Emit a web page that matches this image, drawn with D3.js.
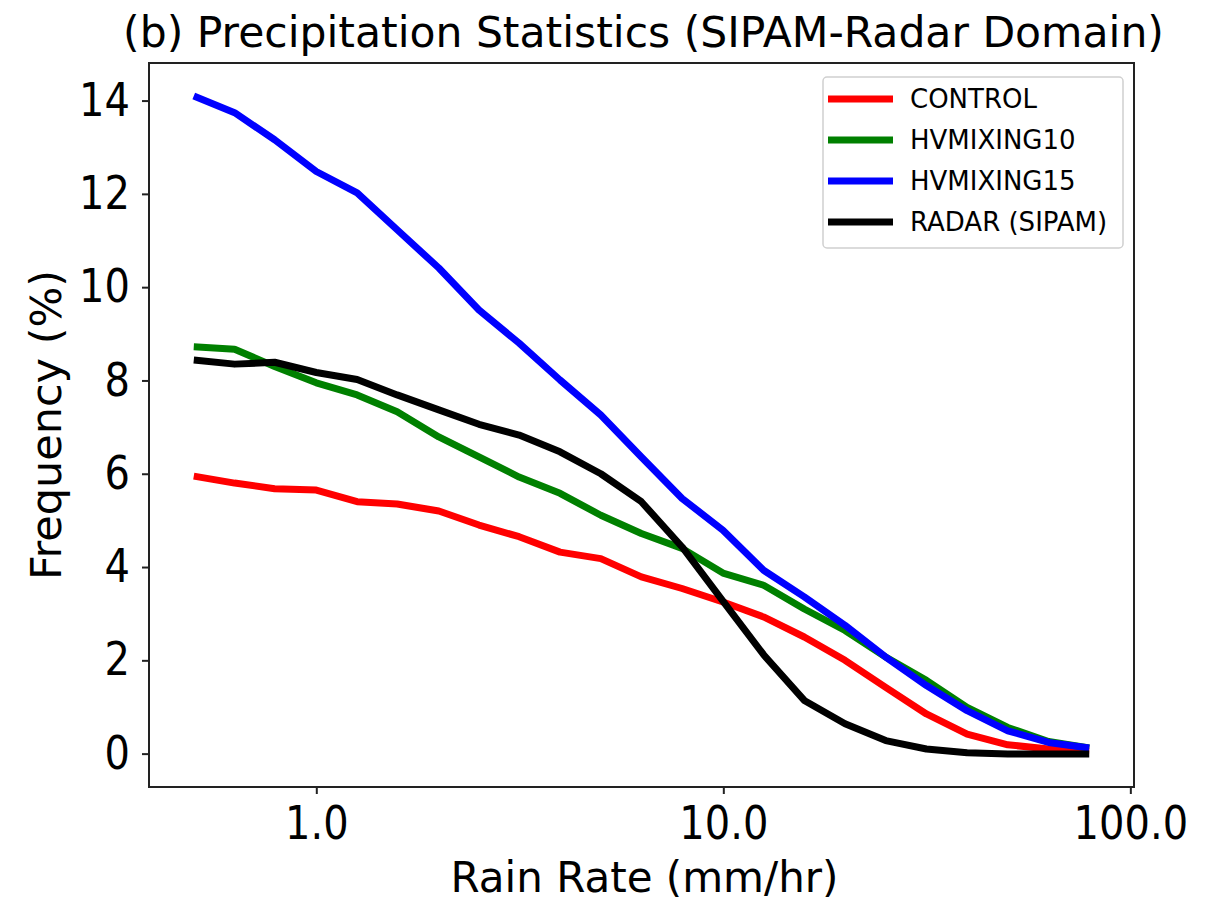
<!DOCTYPE html>
<html>
<head>
<meta charset="utf-8">
<script src="https://cdn.jsdelivr.net/npm/d3@7"></script>
<style>
  html, body { margin: 0; padding: 0; background: #fff; }
  text { font-family: "DejaVu Sans", sans-serif; fill: #000; }
</style>
</head>
<body>
<svg id="chart" width="1209" height="906"></svg>
<script>
// Rain-rate bins (mm/hr): 0.5 * 10^(k/10), k = 0..22
const rainRate = [0.5, 0.63, 0.79, 1.0, 1.26, 1.58, 2.0, 2.51, 3.15, 3.97, 5.0,
                  6.29, 7.92, 9.98, 12.56, 15.81, 19.91, 25.06, 31.55, 39.72, 50.0, 62.95, 79.25];

const control     = [5.95, 5.80, 5.68, 5.65, 5.40, 5.35, 5.20, 4.90, 4.65, 4.32, 4.18,
                     3.79, 3.54, 3.25, 2.93, 2.50, 2.00, 1.42, 0.85, 0.42, 0.19, 0.10, 0.05];
const hvmixing10  = [8.72, 8.67, 8.30, 7.95, 7.69, 7.33, 6.79, 6.36, 5.93, 5.58, 5.11,
                     4.72, 4.40, 3.87, 3.61, 3.10, 2.64, 2.07, 1.57, 0.99, 0.56, 0.26, 0.12];
const hvmixing15  = [14.10, 13.74, 13.16, 12.48, 12.02, 11.23, 10.41, 9.51, 8.80, 8.01, 7.26,
                     6.36, 5.47, 4.79, 3.93, 3.36, 2.75, 2.07, 1.46, 0.92, 0.49, 0.24, 0.12];
const radar       = [8.44, 8.35, 8.39, 8.17, 8.02, 7.69, 7.37, 7.06, 6.83, 6.47, 6.00,
                     5.40, 4.43, 3.27, 2.12, 1.14, 0.64, 0.28, 0.10, 0.02, -0.01, -0.01, -0.01];

const seriesNames  = ["CONTROL", "HVMIXING10", "HVMIXING15", "RADAR (SIPAM)"];
const seriesColors = ["#ff0000", "#008000", "#0000ff", "#000000"];
const seriesValues = [control, hvmixing10, hvmixing15, radar];

const xTicks = [1, 10, 100];
const yTicks = [0, 2, 4, 6, 8, 10, 12, 14];

const titleText = "(b) Precipitation Statistics (SIPAM-Radar Domain)";
const xLabel = "Rain Rate (mm/hr)";
const yLabel = "Frequency (%)";

const svg = d3.select("#chart");
const plot = { left: 149, right: 1134, top: 63, bottom: 787 };
const tickFont = 40, tickStretch = 1.14;

// log x-axis with 5% padding in log space, like the default autoscale margins
const lx0 = Math.log10(d3.min(rainRate)), lx1 = Math.log10(d3.max(rainRate));
const padX = (lx1 - lx0) * 0.05;
const x = d3.scaleLog()
  .domain([Math.pow(10, lx0 - padX), Math.pow(10, lx1 + padX)])
  .range([plot.left, plot.right]);

const allVals = seriesValues.flat();
const y0 = Math.min(0, d3.min(allVals)), y1 = d3.max(allVals);
const padY = (y1 - y0) * 0.05;
const y = d3.scaleLinear()
  .domain([y0 - padY, y1 + padY])
  .range([plot.bottom, plot.top]);

// lines
const line = d3.line()
  .x((d, i) => x(rainRate[i]))
  .y(d => y(d));

const g = svg.append("g");
seriesValues.forEach((vals, i) => {
  g.append("path")
    .datum(vals)
    .attr("d", line)
    .attr("fill", "none")
    .attr("stroke", seriesColors[i])
    .attr("stroke-width", 7)
    .attr("stroke-linejoin", "round")
    .attr("stroke-linecap", "butt");
});

// frame
svg.append("rect")
  .attr("x", plot.left).attr("y", plot.top)
  .attr("width", plot.right - plot.left).attr("height", plot.bottom - plot.top)
  .attr("fill", "none").attr("stroke", "#222").attr("stroke-width", 2);

// axes
const xAxis = d3.axisBottom(x)
  .tickValues(xTicks)
  .tickFormat(d3.format(".1f"))
  .tickSize(7).tickPadding(13);
const gx = svg.append("g")
  .attr("transform", `translate(0,${plot.bottom})`)
  .call(xAxis);
gx.select(".domain").remove();
gx.selectAll(".tick line").attr("stroke", "#222").attr("stroke-width", 2);
gx.selectAll(".tick text").each(function () {
  const t = d3.select(this);
  const ty = +t.attr("y");
  t.attr("y", 0).attr("font-size", tickFont)
   .attr("transform", `translate(0,${ty}) scale(1,${tickStretch})`);
});

const yAxis = d3.axisLeft(y)
  .tickValues(yTicks)
  .tickFormat(d3.format("d"))
  .tickSize(7).tickPadding(12);
const gy = svg.append("g")
  .attr("transform", `translate(${plot.left},0)`)
  .call(yAxis);
gy.select(".domain").remove();
gy.selectAll(".tick line").attr("stroke", "#222").attr("stroke-width", 2);
gy.selectAll(".tick text").each(function () {
  const t = d3.select(this);
  const tx = +t.attr("x");
  t.attr("x", 0).attr("font-size", tickFont)
   .attr("transform", `translate(${tx},0) scale(1,${tickStretch})`);
});

// titles
svg.append("text")
  .attr("x", (plot.left + plot.right) / 2 + 2).attr("y", 47)
  .attr("text-anchor", "middle").attr("font-size", 42.5)
  .text(titleText);

svg.append("text")
  .attr("x", (plot.left + plot.right) / 2 + 3).attr("y", 892)
  .attr("text-anchor", "middle").attr("font-size", 42)
  .text(xLabel);

svg.append("text")
  .attr("transform", `translate(61,${(plot.top + plot.bottom) / 2}) rotate(-90)`)
  .attr("text-anchor", "middle").attr("font-size", 43)
  .text(yLabel);

// legend
const leg = svg.append("g").attr("transform", "translate(823,77)");
leg.append("rect")
  .attr("width", 300).attr("height", 171).attr("rx", 4)
  .attr("fill", "#fff").attr("fill-opacity", 0.8)
  .attr("stroke", "#d0d0d0").attr("stroke-width", 1.5);
seriesNames.forEach((name, i) => {
  const row = leg.append("g").attr("transform", `translate(0,${22 + i * 41})`);
  row.append("line")
    .attr("x1", 5).attr("x2", 70).attr("y1", 0).attr("y2", 0)
    .attr("stroke", seriesColors[i]).attr("stroke-width", 7);
  row.append("text")
    .attr("x", 87).attr("y", 0).attr("dy", "0.35em")
    .attr("font-size", 26)
    .text(name);
});
</script>
</body>
</html>
